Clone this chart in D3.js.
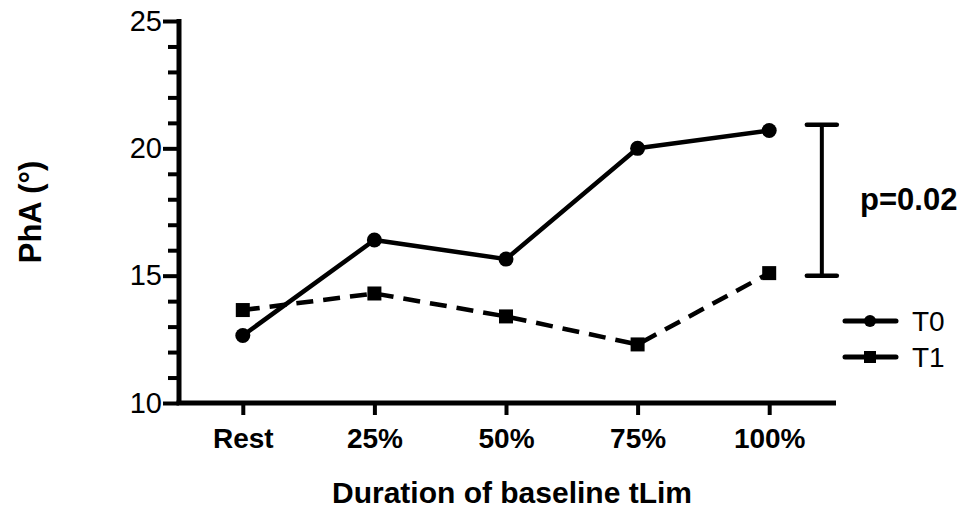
<!DOCTYPE html>
<html>
<head>
<meta charset="utf-8">
<script src="https://cdn.jsdelivr.net/npm/d3@7"></script>
<style>
  html, body { margin: 0; padding: 0; background: #fff; }
  svg { display: block; font-family: "Liberation Sans", Arial, sans-serif; }
</style>
</head>
<body>
<svg id="chart" width="961" height="512"></svg>
<script>
const categories = ["Rest", "25%", "50%", "75%", "100%"];
const t0Values = [12.65, 16.4, 15.65, 20.0, 20.7];
const t1Values = [13.65, 14.3, 13.4, 12.3, 15.1];
const yMajorTicks = [10, 15, 20, 25];
const yMinorTicks = [11, 12, 13, 14, 16, 17, 18, 19, 21, 22, 23, 24];
const seriesNames = ["T0", "T1"];
const bracketRange = [15.0, 20.93];
const bracketLabel = "p=0.02";
const xTitle = "Duration of baseline tLim";
const yTitle = "PhA (°)";

const svg = d3.select("#chart");
const x = d3.scaleLinear().domain([-0.5, 4.5]).range([177, 835]);
const y = d3.scaleLinear().domain([10, 25]).range([403, 21]);
const left = 179, bottom = 403;

// Y axis major ticks
const yAxis = d3.axisLeft(y).tickValues(yMajorTicks).tickSize(16).tickPadding(1).tickFormat(d3.format("d"));
const gy = svg.append("g").attr("transform", `translate(${left},0)`).call(yAxis);
gy.select(".domain").remove();
gy.selectAll(".tick line").attr("stroke", "#000").attr("stroke-width", 4);
gy.selectAll(".tick text").attr("font-size", 29).attr("fill", "#000").attr("font-family", "Liberation Sans, Arial, sans-serif");
// minor ticks
const gyMinor = svg.append("g").attr("transform", `translate(${left},0)`)
  .call(d3.axisLeft(y).tickValues(yMinorTicks).tickSize(11).tickFormat(""));
gyMinor.select(".domain").remove();
gyMinor.selectAll(".tick line").attr("stroke", "#000").attr("stroke-width", 4);

// X axis
const xAxis = d3.axisBottom(x).tickValues(d3.range(categories.length)).tickSize(12).tickPadding(13)
  .tickFormat(i => categories[i]);
const gx = svg.append("g").attr("transform", `translate(0,${bottom})`).call(xAxis);
gx.select(".domain").remove();
gx.selectAll(".tick line").attr("stroke", "#000").attr("stroke-width", 4);
gx.selectAll(".tick text").attr("font-size", 28).attr("font-weight", "bold").attr("fill", "#000")
  .attr("font-family", "Liberation Sans, Arial, sans-serif");

// axis lines
svg.append("line").attr("x1", left).attr("x2", left).attr("y1", y(25) - 2).attr("y2", bottom)
  .attr("stroke", "#000").attr("stroke-width", 5);
svg.append("line").attr("x1", left - 2.5).attr("x2", 836).attr("y1", bottom).attr("y2", bottom)
  .attr("stroke", "#000").attr("stroke-width", 5);

// Lines
const line = d3.line().x((d, i) => x(i)).y(d => y(d));
svg.append("path").datum(t0Values).attr("d", line).attr("fill", "none")
  .attr("stroke", "#000").attr("stroke-width", 4.5).attr("stroke-linejoin", "round");
svg.append("path").datum(t1Values).attr("d", line).attr("fill", "none")
  .attr("stroke", "#000").attr("stroke-width", 4.5).attr("stroke-dasharray", "17,10");

// markers
svg.selectAll(".m0").data(t0Values).enter().append("circle")
  .attr("cx", (d, i) => x(i)).attr("cy", d => y(d)).attr("r", 7.5).attr("fill", "#000");
const sq = 14;
svg.selectAll(".m1").data(t1Values).enter().append("rect")
  .attr("x", (d, i) => x(i) - sq / 2).attr("y", d => y(d) - sq / 2)
  .attr("width", sq).attr("height", sq).attr("fill", "#000");

// bracket
const bx = x(4.4);
svg.append("line").attr("x1", bx).attr("x2", bx).attr("y1", y(bracketRange[1])).attr("y2", y(bracketRange[0]))
  .attr("stroke", "#000").attr("stroke-width", 4);
bracketRange.forEach(v => {
  svg.append("line").attr("x1", bx - 15).attr("x2", bx + 15).attr("y1", y(v)).attr("y2", y(v))
    .attr("stroke", "#000").attr("stroke-width", 4.5).attr("stroke-linecap", "round");
});
svg.append("text").attr("x", 860).attr("y", y((bracketRange[0] + bracketRange[1]) / 2) + 10)
  .attr("font-size", 31).attr("font-weight", "bold").text(bracketLabel);

// legend
const legY = [321, 357];
seriesNames.forEach((name, k) => {
  const ly = legY[k];
  svg.append("line").attr("x1", 845).attr("x2", 896).attr("y1", ly).attr("y2", ly)
    .attr("stroke", "#000").attr("stroke-width", 5).attr("stroke-linecap", "round");
  if (k === 0) {
    svg.append("circle").attr("cx", 870).attr("cy", ly).attr("r", 6).attr("fill", "#000");
  } else {
    svg.append("rect").attr("x", 870 - 6).attr("y", ly - 6).attr("width", 12).attr("height", 12).attr("fill", "#000");
  }
  svg.append("text").attr("x", 912).attr("y", ly + 10).attr("font-size", 28).text(name);
});

// titles
svg.append("text").attr("x", 512).attr("y", 503).attr("text-anchor", "middle")
  .attr("font-size", 30).attr("font-weight", "bold").text(xTitle);
svg.append("text").attr("transform", "translate(41,212) rotate(-90)").attr("text-anchor", "middle")
  .attr("font-size", 31).attr("font-weight", "bold").text(yTitle);
</script>
</body>
</html>
